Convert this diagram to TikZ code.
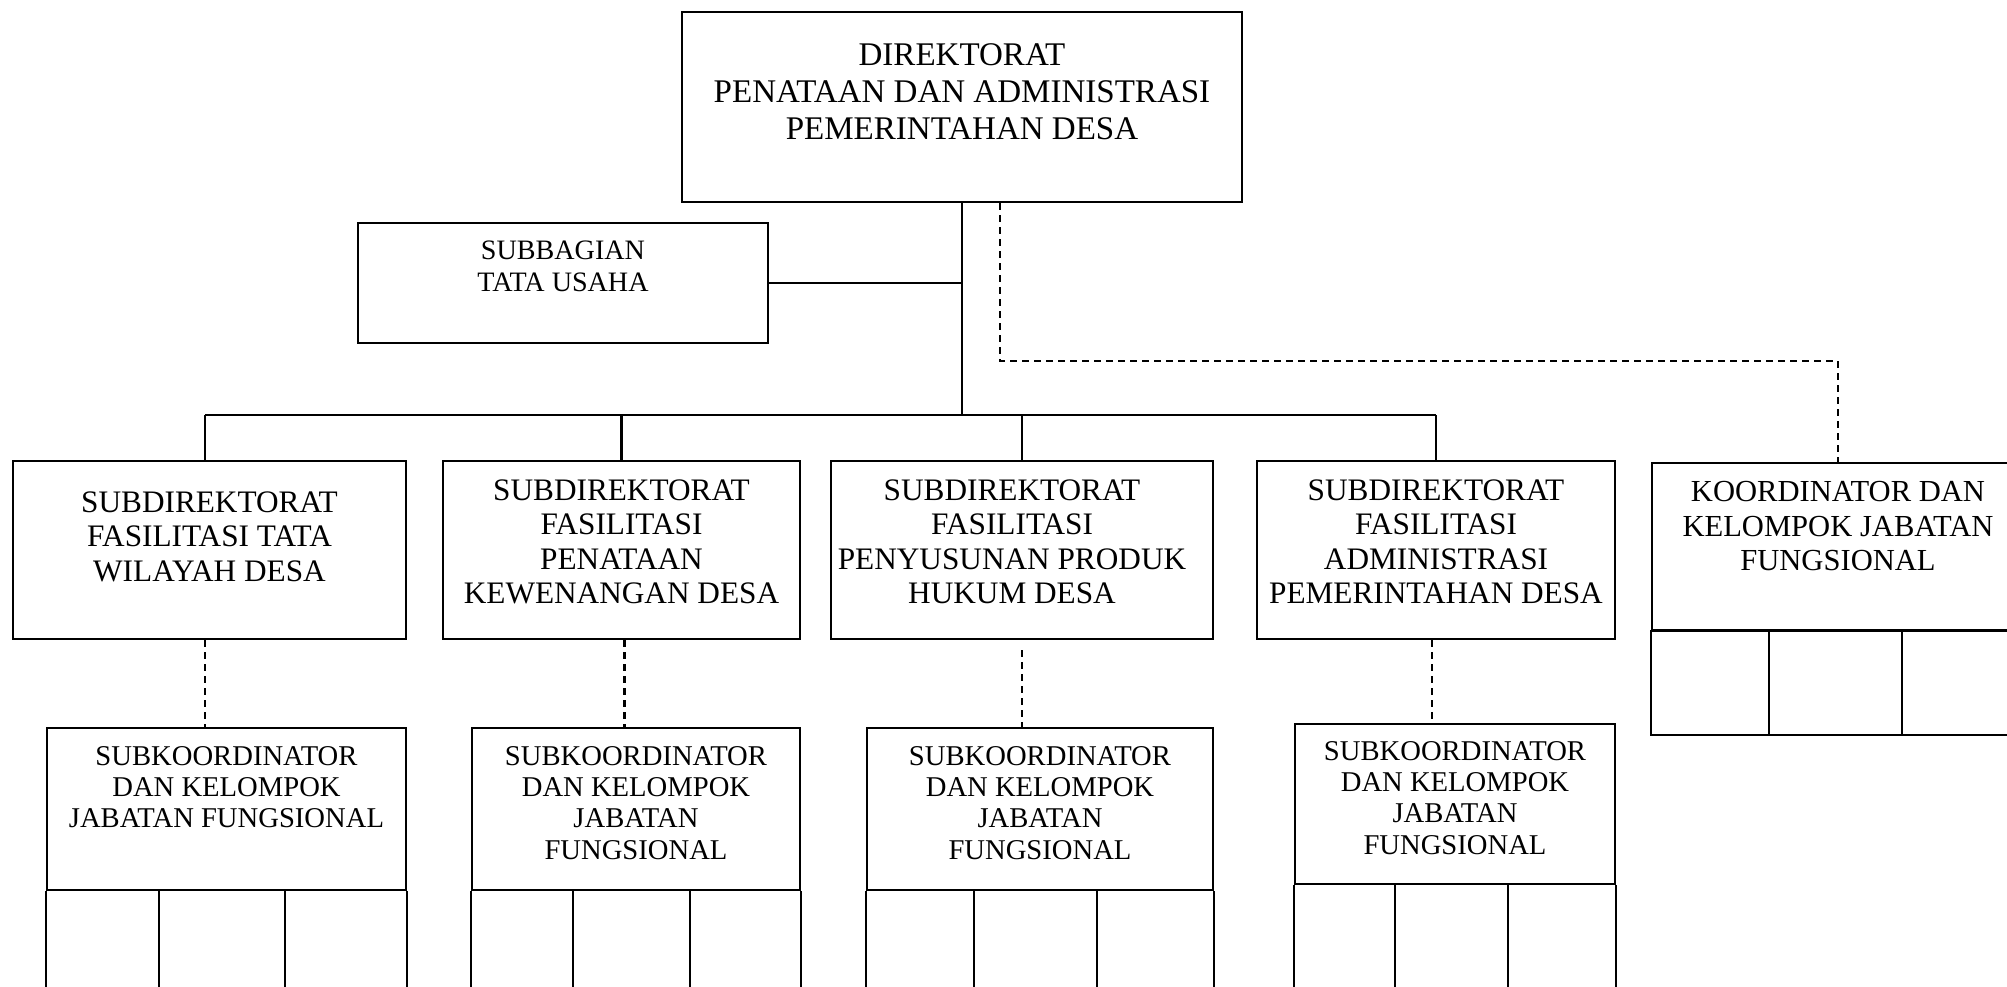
\documentclass[tikz,border=0pt]{standalone}
\usepackage{fontspec}
\setmainfont{Liberation Serif}
\usetikzlibrary{positioning}
\tikzset{
    unitbox/.style={draw, line width=0.7pt, inner sep=0pt},
    boxline/.style={line width=0.7pt},
    solidline/.style={line width=0.6pt},
    dashline/.style={line width=0.6pt, dash pattern=on 0.7mm off 0.5mm},
    boxtext/.style={align=center, inner sep=0pt},
    toptext/.style={boxtext, font=\fontsize{9.4}{10.5}\selectfont},
    subtext/.style={boxtext, font=\fontsize{8.9}{9.8}\selectfont},
    kftext/.style={boxtext, font=\fontsize{8.7}{9.8}\selectfont},
    tutext/.style={boxtext, font=\fontsize{8}{9.1}\selectfont},
    koortext/.style={boxtext, font=\fontsize{8.15}{8.9}\selectfont}
}

\begin{document}
\begin{tikzpicture}[x=0.1mm, y=-0.1mm]
    \useasboundingbox (0,0) rectangle (2007,987);
    \clip (0,0) rectangle (2007,987);

    \node[unitbox, minimum width=56mm, minimum height=19mm] (dir) at (962,107) {};
    \node[unitbox, minimum width=41mm, minimum height=12mm] (tu) at (563,283) {};

    \node[unitbox, minimum width=39.3mm, minimum height=17.8mm] (sd1) at (209.5,550) {};
    \node[unitbox, minimum width=35.7mm, minimum height=17.8mm] (sd2) at (621.5,550) {};
    \node[unitbox, minimum width=38.2mm, minimum height=17.8mm] (sd3) at (1022,550) {};
    \node[unitbox, minimum width=35.8mm, minimum height=17.8mm] (sd4) at (1436,550) {};
    \node[unitbox, minimum width=37.2mm, minimum height=16.7mm] (kf) at (1838,546.5) {};

    \node[unitbox, minimum width=35.9mm, minimum height=16.2mm] (sk1) at (226.5,809) {};
    \node[unitbox, minimum width=32.8mm, minimum height=16.2mm] (sk2) at (636,809) {};
    \node[unitbox, minimum width=34.6mm, minimum height=16.2mm] (sk3) at (1040,809) {};
    \node[unitbox, minimum width=32mm, minimum height=16mm] (sk4) at (1455,804) {};

    \node[toptext, below=3.2mm of dir.north] (dirtxt) {DIREKTORAT\\PENATAAN DAN ADMINISTRASI\\PEMERINTAHAN DESA};
    \node[tutext, below=1.8mm of tu.north] (tutxt) {SUBBAGIAN\\TATA USAHA};
    \node[subtext, below=3.1mm of sd1.north] (sd1txt) {SUBDIREKTORAT\\FASILITASI TATA\\WILAYAH DESA};
    \node[subtext, below=1.9mm of sd2.north] (sd2txt) {SUBDIREKTORAT\\FASILITASI\\PENATAAN\\KEWENANGAN DESA};
    \node[subtext, below=1.9mm of sd3.north, xshift=-1mm] (sd3txt) {SUBDIREKTORAT\\FASILITASI\\PENYUSUNAN PRODUK\\HUKUM DESA};
    \node[subtext, below=1.9mm of sd4.north] (sd4txt) {SUBDIREKTORAT\\FASILITASI\\ADMINISTRASI\\PEMERINTAHAN DESA};
    \node[kftext, below=1.9mm of kf.north] (kftxt) {KOORDINATOR DAN\\KELOMPOK JABATAN\\FUNGSIONAL};
    \node[koortext, below=1.9mm of sk1.north] (sk1txt) {SUBKOORDINATOR\\DAN KELOMPOK\\JABATAN FUNGSIONAL};
    \node[koortext, below=1.9mm of sk2.north] (sk2txt) {SUBKOORDINATOR\\DAN KELOMPOK\\JABATAN\\FUNGSIONAL};
    \node[koortext, below=1.9mm of sk3.north] (sk3txt) {SUBKOORDINATOR\\DAN KELOMPOK\\JABATAN\\FUNGSIONAL};
    \node[koortext, below=1.8mm of sk4.north] (sk4txt) {SUBKOORDINATOR\\DAN KELOMPOK\\JABATAN\\FUNGSIONAL};

    \coordinate (bus) at (205,415);
    \coordinate (kbend) at (1000,361);

    \draw[solidline] (dir.south) -- (dir.south |- bus);
    \draw[solidline] (tu.east) -- (tu.east -| dir.south);
    \draw[solidline] (bus) -- (sd4.north |- bus);
    \draw[solidline] (bus) -- (bus |- sd1.north);
    \foreach \s in {sd2,sd3,sd4}
        \draw[solidline] (\s.north) -- (\s.north |- bus);

    \draw[dashline] (dir.south -| kbend) -- (kbend) -- (kbend -| kf.north) -- (kf.north);

    \draw[dashline] (bus |- sd1.south) -- (bus |- sk1.north);
    \draw[dashline] ([xshift=0.3mm]sd2.south) -- ([xshift=0.3mm]sd2.south |- sk2.north);
    \draw[dashline] ([yshift=-1mm]sd3.south) -- (sd3.south |- sk3.north);
    \draw[dashline] ([xshift=-0.4mm]sd4.south) -- ([xshift=-0.4mm]sd4.south |- sk4.north);

    \draw[boxline] (kf.south west) rectangle ([yshift=-10.4mm]kf.south east);
    \foreach \x in {1769,1902}
        \draw[boxline] (\x,630) -- (\x,734);

    \foreach \s in {sk1,sk2,sk3,sk4}
        \draw[boxline] (\s.south west) -- ++(0,150) (\s.south east) -- ++(0,150);
    \foreach \x in {159,285,573,690,974,1097}
        \draw[boxline] (\x,890) -- (\x,1040);
    \foreach \x in {1395,1508}
        \draw[boxline] (\x,884) -- (\x,1040);
\end{tikzpicture}
\end{document}
